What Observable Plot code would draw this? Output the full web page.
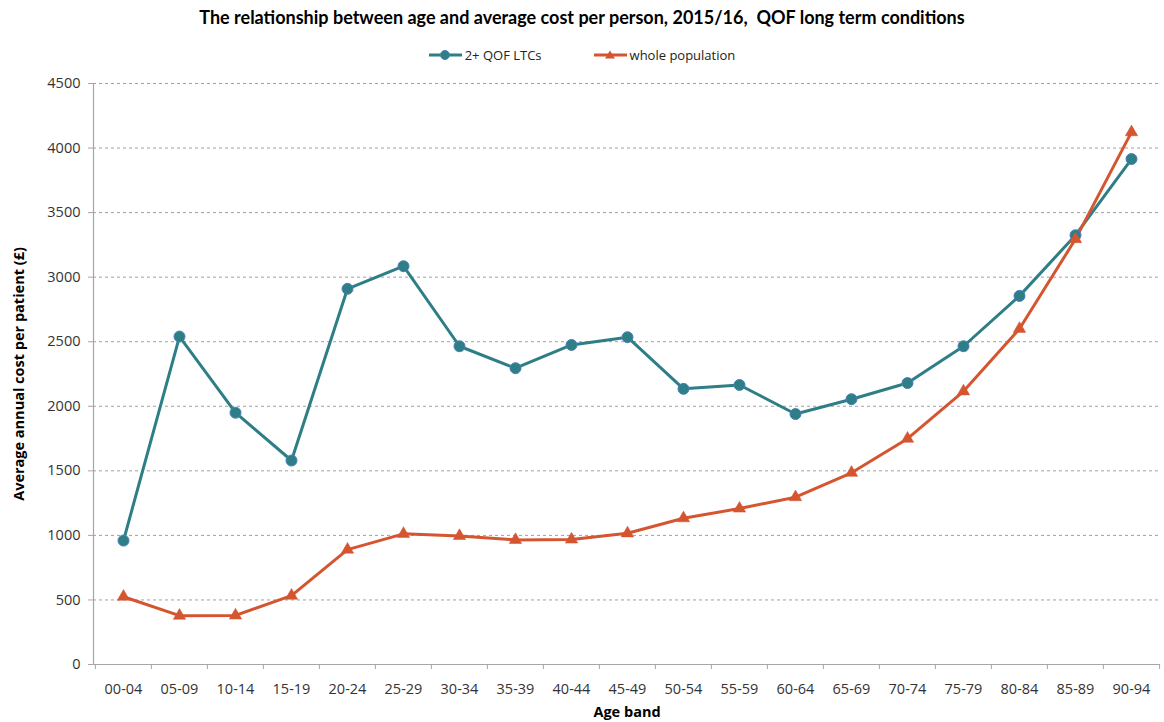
<!DOCTYPE html>
<html>
<head>
<meta charset="utf-8">
<script src="https://cdn.jsdelivr.net/npm/d3@7"></script>
<script src="https://cdn.jsdelivr.net/npm/@observablehq/plot@0.6"></script>
<style>
  html, body { margin: 0; padding: 0; background: #fff; }
  #wrap { width: 1164px; height: 722px; position: relative; font-family: "Open Sans", sans-serif; }
  #title { position: absolute; left: 0; top: 6px; width: 1164px; text-align: center; font-family: Lato, sans-serif; font-weight: bold; font-size: 18px; color: #000; }
  #legend { position: absolute; left: 0; top: 46px; width: 1164px; text-align: center; font-size: 13px; color: #222; }
  #legend .item { display: inline-flex; align-items: center; margin: 0 26px; }
  #legend svg { margin-right: 3px; }
  #chart { position: absolute; left: 0; top: 70px; }
  #chart svg [aria-label="y-axis label"] text, #chart svg [aria-label="x-axis label"] text { font-weight: bold; fill: #000; }
</style>
</head>
<body>
<div id="wrap">
  <div id="title">The relationship between age and average cost per person, 2015/16,&nbsp; QOF long term conditions</div>
  <div id="legend"></div>
  <div id="chart"></div>
</div>
<script>
const ages = ["00-04","05-09","10-14","15-19","20-24","25-29","30-34","35-39","40-44","45-49","50-54","55-59","60-64","65-69","70-74","75-79","80-84","85-89","90-94"];
const ltc = [960, 2540, 1950, 1580, 2910, 3085, 2465, 2295, 2475, 2535, 2135, 2165, 1940, 2055, 2180, 2465, 2855, 3325, 3915];
const whole = [525, 378, 380, 533, 890, 1012, 996, 965, 968, 1016, 1133, 1208, 1296, 1485, 1749, 2116, 2600, 3295, 4123];
const seriesNames = ["2+ QOF LTCs", "whole population"];
const yTicks = [0, 500, 1000, 1500, 2000, 2500, 3000, 3500, 4000, 4500];

const teal = "#2E7E86";
const tealEdge = "#4A7EBB";
const orange = "#D4552F";
const axisGray = "#A6A6A6";

const data = ages.flatMap((a, i) => [
  {age: a, value: ltc[i], series: seriesNames[0]},
  {age: a, value: whole[i], series: seriesNames[1]}
]);
const dLtc = data.filter(d => d.series === seriesNames[0]);
const dWhole = data.filter(d => d.series === seriesNames[1]);

const W = 1164, H = 652, mL = 93, mR = 4, mT = 13, mB = 58;
const step = (W - mL - mR) / ages.length;

const chart = Plot.plot({
  width: W, height: H,
  marginLeft: mL, marginRight: mR, marginTop: mT, marginBottom: mB,
  style: {fontFamily: "'Open Sans', sans-serif", fontSize: "14px", color: "#404040", background: "#fff"},
  x: {type: "point", domain: ages, padding: 0.5},
  y: {domain: [0, 4500]},
  marks: [
    Plot.gridY(yTicks.filter(v => v > 0), {stroke: "#A0A0A0", strokeOpacity: 1, strokeDasharray: "3,3"}),
    Plot.ruleY([0], {stroke: axisGray, strokeWidth: 1.2}),
    Plot.frame({anchor: "left", stroke: axisGray, strokeWidth: 1.2}),
    Plot.axisY({ticks: yTicks, tickFormat: d => String(d), tickSize: 5, tickPadding: 8, stroke: axisGray, fill: "#333", fontSize: 14.5,
      label: "Average annual cost per patient (£)", labelAnchor: "center", labelArrow: "none", labelOffset: 80}),
    Plot.axisX({ticks: ages, tickSize: 0, tickPadding: 19, fill: "#333", fontSize: 14.5,
      label: "Age band", labelAnchor: "center", labelArrow: "none", labelOffset: 52}),
    Plot.axisX({ticks: ages, tickSize: 5, tickFormat: () => "", stroke: axisGray, dx: -step / 2, label: null}),
    Plot.axisX({ticks: ages.slice(-1), tickSize: 5, tickFormat: () => "", stroke: axisGray, dx: step / 2, label: null}),
    Plot.line(dLtc, {x: "age", y: "value", stroke: teal, strokeWidth: 3}),
    Plot.line(dWhole, {x: "age", y: "value", stroke: orange, strokeWidth: 3}),
    Plot.dot(dLtc, {x: "age", y: "value", r: 5.5, fill: teal, stroke: tealEdge, strokeWidth: 1}),
    Plot.dot(dWhole, {x: "age", y: "value", r: 4.6, symbol: "triangle", fill: orange, stroke: orange, strokeWidth: 0.5})
  ]
});
document.getElementById("chart").appendChild(chart);

// legend
const legend = document.getElementById("legend");
[[seriesNames[0], teal, "circle"], [seriesNames[1], orange, "triangle"]].forEach(([name, col, sym]) => {
  const span = document.createElement("span");
  span.className = "item";
  const marker = sym === "circle"
    ? `<circle cx="16" cy="8" r="4.5" fill="${col}" stroke="${tealEdge}" stroke-width="1"/>`
    : `<path d="M16,3.5 L21,11.5 L11,11.5 Z" fill="${col}"/>`;
  span.innerHTML = `<svg width="33" height="16"><line x1="0" y1="8" x2="33" y2="8" stroke="${col}" stroke-width="3"/>${marker}</svg><span>${name}</span>`;
  legend.appendChild(span);
});
</script>
</body>
</html>
